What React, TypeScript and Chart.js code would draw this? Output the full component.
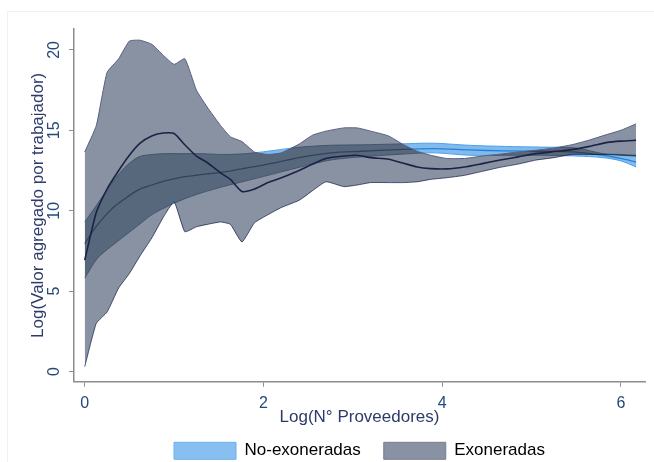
import React, { useEffect, useRef } from "react";
import { Chart, registerables } from "chart.js";
Chart.register(...registerables);

// Exoneradas (grey band + navy mean line)
const exoX = [0, 0.13, 0.25, 0.38, 0.5, 0.62, 0.75, 0.88, 1.0, 1.12, 1.25, 1.37, 1.52, 1.63, 1.76, 1.9, 2.05, 2.2, 2.4, 2.55, 2.7, 2.9, 3.05, 3.2, 3.4, 3.57, 3.72, 3.87, 4.05, 4.25, 4.45, 4.65, 4.85, 5.05, 5.25, 5.45, 5.65, 5.85, 6.0, 6.17];
const exoUpper = [13.65, 15.3, 18.6, 19.45, 20.55, 20.6, 20.35, 19.66, 19.1, 19.45, 17.5, 16.45, 15.3, 14.6, 14.3, 13.65, 13.5, 13.6, 14.15, 14.7, 14.95, 15.15, 15.15, 14.95, 14.65, 14.1, 13.7, 13.45, 13.25, 13.25, 13.4, 13.52, 13.65, 13.76, 13.9, 14.1, 14.4, 14.75, 15.0, 15.4];
const exoLower = [0.3, 3.0, 3.7, 5.2, 6.1, 7.2, 8.3, 9.6, 10.55, 8.7, 9.0, 9.15, 9.3, 9.15, 8.06, 9.25, 9.75, 10.2, 10.65, 11.25, 11.8, 11.5, 11.6, 11.75, 11.75, 11.75, 11.8, 11.95, 12.05, 12.2, 12.45, 12.7, 12.9, 13.15, 13.3, 13.5, 13.5, 13.5, 13.45, 13.4];
const exoMean = [6.93, 9.9, 11.35, 12.5, 13.45, 14.2, 14.65, 14.83, 14.8, 14.1, 13.4, 13.0, 12.35, 11.95, 11.2, 11.35, 11.75, 12.05, 12.5, 12.9, 13.25, 13.4, 13.45, 13.3, 13.2, 12.95, 12.72, 12.62, 12.6, 12.72, 12.93, 13.15, 13.35, 13.55, 13.68, 13.8, 14.0, 14.25, 14.33, 14.38];

// No-exoneradas (blue band + blue mean line)
const noExoX = [0, 0.14, 0.3, 0.45, 0.6, 0.75, 0.9, 1.1, 1.3, 1.55, 1.8, 2.05, 2.4, 2.75, 3.1, 3.5, 3.9, 4.3, 4.7, 5.1, 5.5, 5.8, 6.0, 6.17];
const noExoUpper = [9.3, 10.4, 11.7, 12.7, 13.34, 13.5, 13.55, 13.55, 13.55, 13.5, 13.55, 13.7, 13.95, 14.07, 14.1, 14.15, 14.2, 14.07, 14.0, 13.96, 13.9, 13.55, 13.5, 13.45];
const noExoLower = [5.8, 7.03, 7.8, 8.45, 9.1, 9.75, 10.2, 10.7, 11.1, 11.5, 11.85, 12.2, 12.7, 13.15, 13.35, 13.5, 13.6, 13.45, 13.45, 13.45, 13.4, 13.3, 13.1, 12.72];
const noExoMean = [7.96, 9.1, 10.1, 10.75, 11.3, 11.6, 11.85, 12.1, 12.25, 12.4, 12.65, 12.9, 13.3, 13.6, 13.7, 13.8, 13.86, 13.78, 13.72, 13.7, 13.65, 13.45, 13.25, 13.03];

const xTicks = [0, 2, 4, 6];
const yTicks = [0, 5, 10, 15, 20];
const legendLabels = ["No-exoneradas", "Exoneradas"];
const xTitle = "Log(N° Proveedores)";
const yTitle = "Log(Valor agregado por trabajador)";

const FONT = "'Liberation Sans', Arial, sans-serif";
const GREY_FILL = "rgb(137,146,163)"; // drawn with multiply
const GREY_EDGE = "rgb(85,95,130)";
const BLUE_FILL = "rgba(60,150,230,0.65)";
const BLUE_EDGE = "rgba(60,150,230,0.85)";

const pts = (xs: number[], ys: number[]) => xs.map((x, i) => ({ x, y: ys[i] }));

// White canvas background + blending so the grey band darkens the blue band beneath it.
const blendPlugin = {
  id: "bandBlend",
  beforeDraw(chart: any) {
    const ctx = chart.ctx;
    ctx.save();
    ctx.globalCompositeOperation = "source-over";
    ctx.fillStyle = "#ffffff";
    ctx.fillRect(0, 0, chart.width, chart.height);
    ctx.restore();
  },
  afterDatasetDraw(chart: any, args: any) {
    const ctx = chart.ctx;
    if (args.index === 5) ctx.globalCompositeOperation = "saturation";
    else if (args.index === 3) ctx.globalCompositeOperation = "multiply";
    else if (args.index === 2) ctx.globalCompositeOperation = "source-over";
  },
};

export default function App() {
  const ref = useRef<HTMLCanvasElement | null>(null);
  useEffect(() => {
    if (!ref.current) return;
    const chart = new Chart(ref.current, {
      type: "line",
      data: {
        datasets: [
          { label: "exoMean", data: pts(exoX, exoMean), borderColor: "rgb(28,34,70)", borderWidth: 1.6, pointRadius: 0, tension: 0.2, fill: false },
          { label: "exoUpper", data: pts(exoX, exoUpper), borderColor: GREY_EDGE, borderWidth: 1, pointRadius: 0, tension: 0.15, fill: false },
          { label: "exoLower", data: pts(exoX, exoLower), borderColor: GREY_EDGE, borderWidth: 1, pointRadius: 0, tension: 0.15, fill: "-1", backgroundColor: GREY_FILL },
          { label: "exoUpperDesat", data: pts(exoX, exoUpper), borderWidth: 0, borderColor: "rgba(0,0,0,0)", pointRadius: 0, tension: 0.15, fill: false },
          { label: "exoLowerDesat", data: pts(exoX, exoLower), borderWidth: 0, borderColor: "rgba(0,0,0,0)", pointRadius: 0, tension: 0.15, fill: "-1", backgroundColor: "rgba(128,128,128,0.7)" },
          { label: "noExoMean", data: pts(noExoX, noExoMean), borderColor: "rgb(40,130,210)", borderWidth: 1.3, pointRadius: 0, tension: 0.3, fill: false },
          { label: "noExoUpper", data: pts(noExoX, noExoUpper), borderColor: BLUE_EDGE, borderWidth: 1, pointRadius: 0, tension: 0.3, fill: false },
          { label: "noExoLower", data: pts(noExoX, noExoLower), borderColor: BLUE_EDGE, borderWidth: 1, pointRadius: 0, tension: 0.3, fill: "-1", backgroundColor: BLUE_FILL },
        ],
      },
      plugins: [blendPlugin],
      options: {
        animation: false,
        responsive: false,
        devicePixelRatio: 1,
        layout: { padding: { top: 29, right: 9, left: 0, bottom: 0 } },
        plugins: {
          tooltip: { enabled: false },
          legend: {
            position: "bottom",
            fullSize: false,
            maxHeight: 42.7,
            onClick: () => {},
            labels: {
              boxWidth: 62,
              boxHeight: 17,
              padding: 23,
              color: "#333",
              font: { family: FONT, size: 17 },
              generateLabels: () => [
                { text: legendLabels[0], fillStyle: "rgba(135,192,240,1)", strokeStyle: "rgba(110,175,235,1)", lineWidth: 1, hidden: false, datasetIndex: 7 },
                { text: legendLabels[1], fillStyle: "rgba(137,146,163,1)", strokeStyle: "rgba(118,126,146,1)", lineWidth: 1, hidden: false, datasetIndex: 2 },
              ],
            },
          },
        },
        scales: {
          x: {
            type: "linear",
            min: -0.12,
            max: 6.27,
            afterBuildTicks: (s: any) => { s.ticks = xTicks.map((v) => ({ value: v })); },
            afterFit: (s: any) => { s.height = 37.6; },
            grid: { drawOnChartArea: false, drawTicks: true, tickLength: 5, color: "#8c8c8c", lineWidth: 1 },
            border: { display: true, color: "#8c8c8c", width: 1.5 },
            ticks: { color: "#24497a", font: { family: FONT, size: 16 }, padding: 7, maxRotation: 0, autoSkip: false },
            title: { display: true, text: xTitle, color: "#2e3a6a", font: { family: FONT, size: 17 }, padding: { top: 0, bottom: -8.4 } },
          },
          y: {
            type: "linear",
            min: -0.63,
            max: 21.3,
            afterBuildTicks: (s: any) => { s.ticks = yTicks.map((v) => ({ value: v })); },
            afterFit: (s: any) => { s.width = 74; },
            grid: { drawOnChartArea: false, drawTicks: true, tickLength: 5, color: "#8c8c8c", lineWidth: 1 },
            border: { display: true, color: "#8c8c8c", width: 1.5 },
            ticks: { color: "#24497a", font: { family: FONT, size: 16 }, padding: 6, minRotation: 90, maxRotation: 90, crossAlign: "center", autoSkip: false },
            title: { display: true, text: yTitle, color: "#2e3a6a", font: { family: FONT, size: 17 }, padding: { top: 27.8, bottom: 0 } },
          },
        },
      },
    });
    return () => chart.destroy();
  }, []);
  return (
    <div style={{ position: "fixed", left: 0, top: 0, width: 654, height: 462, overflow: "hidden", background: "#fff" }}>
      <canvas ref={ref} width={654} height={462} style={{ position: "absolute", left: 0, top: 0 }} />
      <div style={{ position: "absolute", left: 7, top: 11, width: 700, height: 500, border: "1px solid #f0f0f0", pointerEvents: "none" }} />
    </div>
  );
}
